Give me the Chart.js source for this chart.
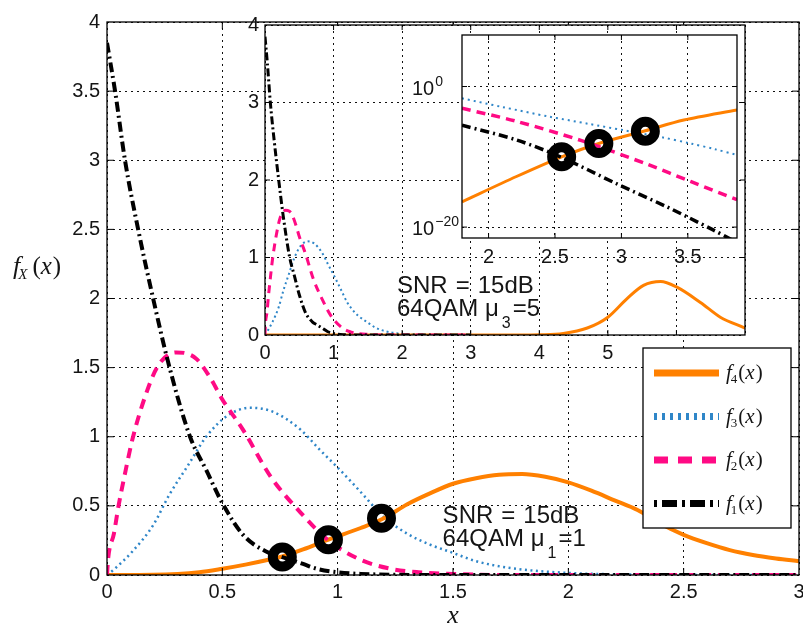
<!DOCTYPE html>
<html><head><meta charset="utf-8">
<script src="https://cdn.jsdelivr.net/npm/chart.js@4.4.1/dist/chart.umd.min.js"></script>
<style>
html,body{margin:0;padding:0;background:#fff;overflow:hidden;}
#wrap{position:relative;width:803px;height:632px;}
canvas{position:absolute;}
#main{left:0;top:0;}
#in1{left:200px;top:0;}
#in2{left:390px;top:20px;}
</style></head><body>
<div id="wrap">
<canvas id="main" width="803" height="632"></canvas>
<canvas id="in1" width="560" height="372"></canvas>
<canvas id="in2" width="360" height="255"></canvas>
</div>
<script>
// ---------------- data ----------------
// main plot (mu_1 = 1)
const f1X = [0, 0.035, 0.078, 0.135, 0.2, 0.265, 0.36, 0.43, 0.5, 0.59, 0.69, 0.76, 0.85, 0.91, 1.0, 1.1, 1.25, 1.5, 3];
const f1Y = [3.85, 3.5, 3.0, 2.5, 2.0, 1.54, 1.0, 0.76, 0.52, 0.29, 0.17, 0.13, 0.08, 0.045, 0.02, 0.008, 0.002, 0, 0];
const f2X = [0, 0.005, 0.03, 0.05, 0.08, 0.11, 0.165, 0.22, 0.30, 0.35, 0.39, 0.45, 0.50, 0.59, 0.71, 0.84, 0.96, 1.1, 1.23, 1.35, 1.5, 1.7, 3];
const f2Y = [0, 0.12, 0.3, 0.5, 0.75, 0.98, 1.29, 1.51, 1.61, 1.6, 1.56, 1.42, 1.27, 1.05, 0.71, 0.45, 0.25, 0.11, 0.045, 0.02, 0.008, 0, 0];
const f3X = [0, 0.03, 0.11, 0.2, 0.27, 0.35, 0.43, 0.52, 0.62, 0.72, 0.84, 0.92, 1.01, 1.1, 1.2, 1.3, 1.4, 1.5, 1.6, 1.75, 2.0, 2.3, 2.6, 3];
const f3Y = [0, 0.04, 0.17, 0.36, 0.58, 0.79, 1.0, 1.15, 1.21, 1.18, 1.05, 0.91, 0.76, 0.6, 0.42, 0.3, 0.22, 0.16, 0.1, 0.05, 0.015, 0.003, 0, 0];
const f4X = [0, 0.2, 0.4, 0.5, 0.6, 0.7, 0.76, 0.85, 0.96, 1.1, 1.2, 1.3, 1.4, 1.5, 1.6, 1.7, 1.8, 1.9, 2.0, 2.1, 2.2, 2.3, 2.4, 2.5, 2.6, 2.7, 2.8, 2.9, 3.0];
const f4Y = [0, 0.002, 0.02, 0.045, 0.075, 0.11, 0.134, 0.185, 0.256, 0.34, 0.41, 0.51, 0.59, 0.66, 0.70, 0.725, 0.73, 0.71, 0.67, 0.61, 0.54, 0.47, 0.37, 0.29, 0.23, 0.18, 0.145, 0.12, 0.10];
const markX = [0.76, 0.96, 1.19];
const markY = [0.13, 0.255, 0.41];
// inset 1 (mu_3 = 5): f1..f3 same curves, f4 shifted
const in1F4X = [0, 3.7, 4.0, 4.35, 4.7, 5.0, 5.28, 5.52, 5.77, 6.0, 6.35, 6.64, 7.0];
const in1F4Y = [0, 0, 0.003, 0.02, 0.09, 0.23, 0.47, 0.64, 0.69, 0.62, 0.42, 0.23, 0.09];
// inset 2 (log scale) : exponents of 10
const in2F3X = [1.8, 2.1, 2.46, 2.75, 3.01, 3.3, 3.52, 3.7, 3.87];
const in2F3E = [-1.68, -2.9, -4.3, -5.3, -6.2, -7.2, -8.1, -8.9, -9.74];
const in2F2X = [1.8, 2.2, 2.7, 3.2, 3.52, 3.87];
const in2F2E = [-3.1, -4.9, -7.7, -11.1, -13.5, -16.1];
const in2F1X = [1.8, 2.21, 2.54, 2.96, 3.34, 3.69, 3.85];
const in2F1E = [-5.5, -7.6, -10.0, -13.8, -17.1, -20.4, -22];
const in2F4X = [1.8, 2.21, 2.55, 2.83, 3.18, 3.47, 3.87];
const in2F4E = [-16.4, -12.8, -10.0, -8.1, -6.3, -4.77, -3.34];
const in2MarkX = [2.55, 2.83, 3.18];
const in2MarkE = [-10.0, -8.1, -6.35];
// labels
const legendLabels = ['f4(x)', 'f3(x)', 'f2(x)', 'f1(x)'];
const mainTicksX = [0, 0.5, 1, 1.5, 2, 2.5, 3];
const in2TicksX = [2, 2.5, 3, 3.5];
const in2TicksYExp = [-20, 0];

// ---------------- helpers ----------------
const ORANGE = '#ff8000', BLUE = '#2f86c8', PINK = '#ff0a84', BLACK = '#000';
const SANS = '"Liberation Sans", Arial, sans-serif';
const SERIF = '"Liberation Serif", "DejaVu Serif", serif';
const TXT = '#151515';
const pts = (xs, ys) => xs.map((x, i) => ({x: x, y: ys[i]}));
const ptsLog = (xs, es) => xs.map((x, i) => ({x: x, y: Math.pow(10, es[i])}));

function drawParts(ctx, x, y, parts) {
  let cx = x;
  for (const p of parts) {
    ctx.font = p[1];
    ctx.fillText(p[0], cx, y + (p[2] || 0));
    cx += ctx.measureText(p[0]).width + (p[3] || 0);
  }
  return cx;
}

const framePlugin = {
  id: 'frame',
  beforeDraw(chart, args, o) {
    const {ctx, chartArea: a} = chart;
    ctx.save();
    ctx.fillStyle = '#fff';
    if (o.full) ctx.fillRect(0, 0, chart.width, chart.height);
    else ctx.fillRect(a.left, a.top, a.right - a.left, a.bottom - a.top);
    ctx.restore();
  },
  afterDatasetsDraw(chart, args, o) {
    const {ctx, chartArea: a, scales} = chart;
    ctx.save();
    ctx.setLineDash([]);
    ctx.strokeStyle = '#000';
    ctx.lineWidth = 1.3;
    ctx.strokeRect(a.left, a.top, a.right - a.left, a.bottom - a.top);
    const L = o.tick || 7;
    ctx.lineWidth = 1;
    ctx.beginPath();
    scales.x.ticks.forEach(t => {
      const p = scales.x.getPixelForValue(t.value);
      if (p <= a.left + 1 || p >= a.right - 1) return;
      ctx.moveTo(p, a.bottom); ctx.lineTo(p, a.bottom - L);
      ctx.moveTo(p, a.top); ctx.lineTo(p, a.top + L);
    });
    scales.y.ticks.forEach(t => {
      const p = scales.y.getPixelForValue(t.value);
      if (p <= a.top + 1 || p >= a.bottom - 1) return;
      ctx.moveTo(a.left, p); ctx.lineTo(a.left + L, p);
      ctx.moveTo(a.right, p); ctx.lineTo(a.right - L, p);
    });
    ctx.stroke();
    ctx.restore();
  }
};

const annotPlugin = {
  id: 'annot',
  afterDatasetsDraw(chart, args, o) {
    const {ctx, scales} = chart;
    ctx.save();
    ctx.fillStyle = TXT;
    ctx.textAlign = 'left';
    ctx.textBaseline = 'alphabetic';
    const x = scales.x.getPixelForValue(o.x);
    const y1 = scales.y.getPixelForValue(o.y1);
    const y2 = scales.y.getPixelForValue(o.y2);
    const F = '24px ' + SANS;
    drawParts(ctx, x, y1, [['SNR', F, 0, 8], ['=', F, 0, 8], ['15dB', F]]);
    drawParts(ctx, x, y2, [['64QAM μ', F, 0, 3], [o.sub, '16px ' + SANS, 12, 2], ['=' + o.val, F]]);
    ctx.restore();
  }
};

const legendPlugin = {
  id: 'mathLegend',
  afterDraw(chart, args, o) {
    const ctx = chart.ctx;
    ctx.save();
    ctx.setLineDash([]);
    ctx.fillStyle = '#fff';
    ctx.fillRect(o.x, o.y, o.w, o.h);
    ctx.strokeStyle = '#000';
    ctx.lineWidth = 1.3;
    ctx.strokeRect(o.x, o.y, o.w, o.h);
    const items = chart.data.datasets.filter(d => d.inLegend);
    items.forEach((d, i) => {
      const cy = o.y + o.first + i * o.step;
      ctx.strokeStyle = d.borderColor;
      ctx.lineWidth = d.legendWidth;
      ctx.lineCap = 'butt';
      ctx.setLineDash(d.legendDash);
      ctx.beginPath();
      ctx.moveTo(o.x + 11, cy);
      ctx.lineTo(o.x + 76, cy);
      ctx.stroke();
      ctx.setLineDash([]);
      ctx.fillStyle = TXT;
      ctx.textBaseline = 'alphabetic';
      const m = d.label.match(/^f(\d)\(x\)$/);
      const IT = 'italic 21px ' + SERIF, UP = '21px ' + SERIF;
      drawParts(ctx, o.x + 83, cy + 6, [['f', IT, 0, -1], [m[1], '13px ' + SERIF, 4, 1], ['(', UP], ['x', IT, 0, 1], [')', UP]]);
    });
    ctx.restore();
  }
};

const ylabelPlugin = {
  id: 'ylab',
  afterDraw(chart) {
    const ctx = chart.ctx;
    ctx.save();
    ctx.fillStyle = TXT;
    ctx.textBaseline = 'alphabetic';
    drawParts(ctx, 13, 274, [['f', 'italic 26px ' + SERIF, 0, -2], ['X', 'italic 15px ' + SERIF, 5, 5],
      ['(', '25px ' + SERIF], ['x', 'italic 25px ' + SERIF, 0, 1], [')', '25px ' + SERIF]]);
    ctx.restore();
  }
};

const logLabelPlugin = {
  id: 'logLabels',
  afterDraw(chart) {
    const {ctx, scales} = chart;
    ctx.save();
    ctx.fillStyle = TXT;
    ctx.textBaseline = 'alphabetic';
    in2TicksYExp.forEach(e => {
      const p = scales.y.getPixelForValue(Math.pow(10, e));
      const s = e < 0 ? '\u2212' + Math.abs(e) : String(e);
      drawParts(ctx, 22, p + 8, [['10', '20px ' + SANS, 0, 1], [s, '14px ' + SANS, -9]]);
    });
    ctx.restore();
  }
};

function lineDs(label, data, color, width, dash, extra) {
  return Object.assign({
    label: label, data: data, borderColor: color, backgroundColor: color,
    borderWidth: width, borderDash: dash, borderCapStyle: 'butt',
    pointRadius: 0, fill: false, cubicInterpolationMode: 'monotone', order: 2
  }, extra || {});
}
function markDs(data) {
  return {label: 'markers', data: data, showLine: false, pointRadius: 9.5, pointBorderWidth: 10,
    pointBackgroundColor: 'rgba(0,0,0,0)', pointBorderColor: '#000', pointHoverRadius: 9.5, order: 0};
}
const gridOpts = {color: '#111', lineWidth: 1, drawTicks: false};
const borderOpts = {display: false, dash: [2, 4]};
const tickFont = {family: 'Liberation Sans', size: 20};
const num = v => String(v);

// ---------------- main chart ----------------
new Chart(document.getElementById('main'), {
  type: 'line',
  data: {datasets: [
    lineDs(legendLabels[0], pts(f4X, f4Y), ORANGE, 4, [], {inLegend: true, legendWidth: 7, legendDash: [], order: 3}),
    lineDs(legendLabels[1], pts(f3X, f3Y), BLUE, 2.5, [2, 3.5], {inLegend: true, legendWidth: 7, legendDash: [3, 5], order: 4}),
    lineDs(legendLabels[2], pts(f2X, f2Y), PINK, 4, [10, 7], {inLegend: true, legendWidth: 7, legendDash: [14, 10], order: 2}),
    lineDs(legendLabels[3], pts(f1X, f1Y), BLACK, 4, [10, 4, 2, 4], {inLegend: true, legendWidth: 7, legendDash: [3, 5, 15, 5], order: 1}),
    markDs(pts(markX, markY))
  ]},
  options: {
    responsive: false, animation: false, events: [],
    layout: {autoPadding: false, padding: {left: 0, top: 22, right: 4, bottom: 0}},
    scales: {
      x: {type: 'linear', min: 0, max: 3,
        afterBuildTicks(s) { s.ticks = mainTicksX.map(v => ({value: v})); },
        ticks: {font: tickFont, color: TXT, padding: 5, maxRotation: 0, callback: num},
        grid: gridOpts, border: borderOpts,
        title: {display: true, text: 'x', color: TXT, font: {family: 'Liberation Serif', style: 'italic', size: 26}, padding: {top: 0, bottom: 0}},
        afterFit(s) { s.height = 57; s.paddingLeft = 0; s.paddingRight = 0; }
      },
      y: {type: 'linear', min: 0, max: 4,
        ticks: {stepSize: 0.5, font: tickFont, color: TXT, padding: 7, callback: num},
        grid: gridOpts, border: borderOpts,
        afterFit(s) { s.width = 107; s.paddingTop = 0; s.paddingBottom = 0; }
      }
    },
    plugins: {
      legend: {display: false}, tooltip: {enabled: false},
      frame: {full: true, tick: 7},
      annot: {x: 1.455, y1: 0.375, y2: 0.21, sub: '1', val: '1'},
      mathLegend: {x: 643, y: 348, w: 148, h: 180, first: 25, step: 43.5}
    }
  },
  plugins: [framePlugin, annotPlugin, legendPlugin, ylabelPlugin]
});

// ---------------- inset 1 ----------------
new Chart(document.getElementById('in1'), {
  type: 'line',
  data: {datasets: [
    lineDs('f4', pts(in1F4X, in1F4Y), ORANGE, 3, [], {order: 3}),
    lineDs('f3', pts(f3X, f3Y), BLUE, 2, [2, 3], {order: 4}),
    lineDs('f2', pts(f2X, f2Y), PINK, 3, [8, 6], {order: 2}),
    lineDs('f1', pts(f1X, f1Y), BLACK, 3, [8, 3, 2, 3], {order: 1})
  ]},
  options: {
    responsive: false, animation: false, events: [],
    layout: {autoPadding: false, padding: {left: 0, top: 25, right: 15, bottom: 0}},
    scales: {
      x: {type: 'linear', min: 0, max: 7,
        ticks: {stepSize: 1, font: tickFont, color: TXT, padding: 6, maxRotation: 0, callback: v => (v <= 5 ? String(v) : '')},
        grid: gridOpts, border: borderOpts,
        afterFit(s) { s.height = 37; s.paddingLeft = 0; s.paddingRight = 0; }
      },
      y: {type: 'linear', min: 0, max: 4,
        ticks: {stepSize: 1, font: tickFont, color: TXT, padding: 6, callback: num},
        grid: gridOpts, border: borderOpts,
        afterFit(s) { s.width = 65; s.paddingTop = 0; s.paddingBottom = 0; }
      }
    },
    plugins: {
      legend: {display: false}, tooltip: {enabled: false},
      frame: {full: false, tick: 5},
      annot: {x: 1.925, y1: 0.54, y2: 0.245, sub: '3', val: '5'}
    }
  },
  plugins: [framePlugin, annotPlugin]
});

// ---------------- inset 2 (log) ----------------
new Chart(document.getElementById('in2'), {
  type: 'line',
  data: {datasets: [
    lineDs('f4', ptsLog(in2F4X, in2F4E), ORANGE, 3, [], {order: 3, cubicInterpolationMode: 'default', tension: 0.3}),
    lineDs('f3', ptsLog(in2F3X, in2F3E), BLUE, 2, [2, 4], {order: 4, cubicInterpolationMode: 'default', tension: 0.3}),
    lineDs('f2', ptsLog(in2F2X, in2F2E), PINK, 3.5, [9, 6], {order: 2, cubicInterpolationMode: 'default', tension: 0.3}),
    lineDs('f1', ptsLog(in2F1X, in2F1E), BLACK, 3.5, [9, 4, 2, 4], {order: 1, cubicInterpolationMode: 'default', tension: 0.3}),
    markDs(ptsLog(in2MarkX, in2MarkE))
  ]},
  options: {
    responsive: false, animation: false, events: [],
    layout: {autoPadding: false, padding: {left: 0, top: 15, right: 13, bottom: 0}},
    scales: {
      x: {type: 'linear', min: 1.8, max: 3.87,
        afterBuildTicks(s) { s.ticks = in2TicksX.map(v => ({value: v})); },
        ticks: {font: tickFont, color: TXT, padding: 7, maxRotation: 0, callback: num},
        grid: gridOpts, border: borderOpts,
        afterFit(s) { s.height = 37; s.paddingLeft = 0; s.paddingRight = 0; }
      },
      y: {type: 'logarithmic', min: Math.pow(10, -21.55), max: Math.pow(10, 7.33),
        afterBuildTicks(s) { s.ticks = in2TicksYExp.map(e => ({value: Math.pow(10, e)})); },
        ticks: {display: false},
        grid: gridOpts, border: borderOpts,
        afterFit(s) { s.width = 72; s.paddingTop = 0; s.paddingBottom = 0; }
      }
    },
    plugins: {
      legend: {display: false}, tooltip: {enabled: false},
      frame: {full: false, tick: 5}
    }
  },
  plugins: [framePlugin, logLabelPlugin]
});
</script>
</body></html>
